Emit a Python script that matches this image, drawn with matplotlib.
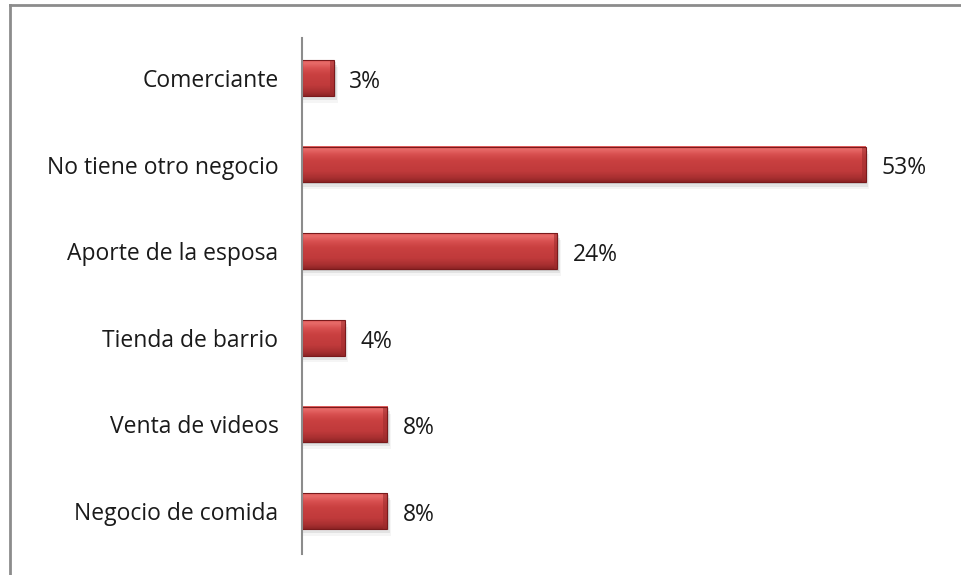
import numpy as np
import matplotlib.pyplot as plt
from matplotlib.colors import LinearSegmentedColormap
from matplotlib.patches import Rectangle
from matplotlib.lines import Line2D

# categories from top to bottom, with their shares in percent
categorias = ["Comerciante", "No tiene otro negocio", "Aporte de la esposa",
              "Tienda de barrio", "Venta de videos", "Negocio de comida"]
porcentajes = [3, 53, 24, 4, 8, 8]
etiquetas = ["3%", "53%", "24%", "4%", "8%", "8%"]

plt.rcParams['font.family'] = ['Open Sans', 'DejaVu Sans']

fig = plt.figure(figsize=(9.61, 5.75), dpi=100)
ax = fig.add_axes([0.3143, 0.036, 0.664, 0.9037])

# frame around the chart area (top and left only)
fig.add_artist(Line2D([0.0109, 0.0109], [0, 0.9905], transform=fig.transFigure,
                      color="#8c8c8c", lw=2))
fig.add_artist(Line2D([0.0109, 1.0], [0.9905, 0.9905], transform=fig.transFigure,
                      color="#8c8c8c", lw=2))

n = len(categorias)
ys = list(range(n - 1, -1, -1))
h = 0.41

# vertical shading for the bar faces, bottom -> top
shade = LinearSegmentedColormap.from_list(
    "shade", [(0.0, "#8E2425"), (0.12, "#A93031"), (0.3, "#C03A3B"),
              (0.6, "#C94040"), (0.78, "#D85050"), (0.92, "#E86B69"),
              (1.0, "#E25E5D")])
grad = np.linspace(0, 1, 64).reshape(-1, 1)

# soft shadow under each bar
for y, v in zip(ys, porcentajes):
    for k, a in enumerate([0.10, 0.07, 0.04]):
        ax.add_patch(Rectangle((0, y - h / 2 - 0.02 - 0.03 * k), v + 0.15 + 0.1 * k, h,
                               facecolor="#000000", alpha=a, lw=0, zorder=1))

bars = ax.barh(ys, porcentajes, height=h, color="#C63D3E", linewidth=0, zorder=2)

for b in bars:
    x0, y0 = b.get_x(), b.get_y()
    w, hh = b.get_width(), b.get_height()
    ax.imshow(grad, cmap=shade, origin="lower", aspect="auto",
              extent=(x0, x0 + w, y0, y0 + hh), zorder=3, interpolation="bilinear")
    # darker right end of the bevel
    ax.add_patch(Rectangle((x0 + w - 0.35, y0), 0.35, hh,
                           facecolor="#9C2B2C", alpha=0.55, lw=0, zorder=4))
    ax.add_patch(Rectangle((x0, y0), w, hh, facecolor="none",
                           edgecolor="#7A1A1C", lw=0.8, zorder=5))

for y, v, t in zip(ys, porcentajes, etiquetas):
    ax.text(v + 1.45, y - 0.045, t, va="center", ha="left", fontsize=16.5,
            color="#1a1a1a", zorder=6)

ax.set_xlim(0, 60)
ax.set_ylim(-0.5, n - 0.5)
ax.set_yticks(ys)
ax.set_yticklabels(categorias, fontsize=16.5, color="#1a1a1a")
ax.tick_params(axis="y", length=0, pad=17)
ax.set_xticks([])
for s in ["top", "right", "bottom"]:
    ax.spines[s].set_visible(False)
ax.spines["left"].set_color("#8c8c8c")
ax.spines["left"].set_linewidth(1.5)
ax.spines["left"].set_zorder(7)
ax.spines["left"].set_bounds(-0.5, n - 0.54)

fig.savefig("out.png", dpi=100)
